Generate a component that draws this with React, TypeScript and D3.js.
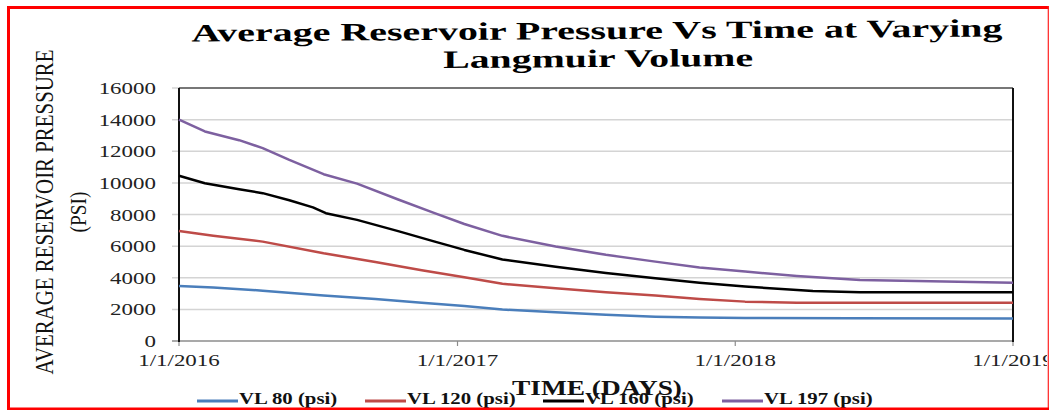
import React from "react";
import * as d3 from "d3";

const purpleDates = ["2016-01-01","2016-02-04","2016-03-20","2016-04-20","2016-05-25","2016-07-09","2016-08-22","2016-10-15","2016-12-01","2017-01-10","2017-03-01","2017-05-10","2017-07-15","2017-09-18","2017-11-15","2018-01-14","2018-03-23","2018-06-14","2018-09-15","2019-01-01"];
const purpleValues = [14000,13250,12700,12200,11450,10550,9950,8950,8100,7400,6650,5970,5450,5020,4650,4390,4115,3860,3780,3690];

const blackDates = ["2016-01-01","2016-02-04","2016-03-20","2016-04-20","2016-05-25","2016-06-25","2016-07-12","2016-08-22","2016-10-15","2016-12-01","2017-01-10","2017-03-01","2017-05-10","2017-07-15","2017-09-18","2017-11-15","2018-01-14","2018-04-13","2018-06-14","2019-01-01"];
const blackValues = [10450,9980,9600,9350,8900,8450,8080,7660,6950,6300,5760,5150,4700,4300,3970,3680,3440,3165,3080,3080];

const redDates = ["2016-01-01","2016-02-15","2016-04-20","2016-07-09","2016-09-15","2016-11-15","2017-01-10","2017-03-01","2017-05-10","2017-07-15","2017-09-18","2017-11-15","2018-01-14","2018-03-23","2019-01-01"];
const redValues = [6950,6650,6285,5550,5000,4480,4030,3620,3335,3080,2870,2660,2490,2425,2425];

const blueDates = ["2016-01-01","2016-02-15","2016-04-20","2016-07-09","2016-09-15","2016-11-15","2017-01-10","2017-03-01","2017-05-10","2017-07-15","2017-09-18","2017-11-15","2018-01-14","2018-06-01","2019-01-01"];
const blueValues = [3480,3380,3185,2870,2650,2420,2215,1990,1815,1660,1540,1480,1450,1440,1430];

const seriesNames = ["VL 80 (psi)", "VL 120 (psi)", "VL 160 (psi)", "VL 197 (psi)"];
const seriesColors = ["#4A7EBB", "#BE4B48", "#000000", "#7D60A0"];

const yTicks = [0, 2000, 4000, 6000, 8000, 10000, 12000, 14000, 16000];
const xTickDates = ["2016-01-01", "2017-01-01", "2018-01-01", "2019-01-01"];
const xTickLabels = ["1/1/2016", "1/1/2017", "1/1/2018", "1/1/2019"];

const titleLines = ["Average Reservoir Pressure Vs Time at Varying", "Langmuir Volume"];
const yTitle1 = "AVERAGE RESERVOIR PRESSURE";
const yTitle2 = "(PSI)";
const xTitle = "TIME (DAYS)";

const legendX = [197, 365, 543, 722];

const parse = (s: string) => new Date(s + "T00:00:00");

export default function App() {
  const W = 1050, H = 410;
  const L = 179, R = 1013, T = 88, B = 341;
  const x = d3.scaleTime().domain([parse("2016-01-01"), parse("2019-01-01")]).range([L, R]);
  const y = d3.scaleLinear().domain([0, 16000]).range([B, T]);
  const line = d3.line<[Date, number]>().x(d => x(d[0])).y(d => y(d[1]));

  const series = [
    { d: blueDates, v: blueValues },
    { d: redDates, v: redValues },
    { d: blackDates, v: blackValues },
    { d: purpleDates, v: purpleValues },
  ];
  const font = "'Liberation Serif', 'Times New Roman', serif";
  const sx = 1.35;

  return (
    <svg width={W} height={H} style={{ position: "absolute", left: 0, top: 0, background: "#fff" }} fontFamily={font}>
      <defs>
        <clipPath id="clipAll"><rect x={0} y={0} width={1047} height={H} /></clipPath>
      </defs>
      <rect x={0} y={0} width={W} height={H} fill="#fff" />
      <g clipPath="url(#clipAll)">
        <g transform="rotate(-0.35,597,40)">
          <text x={597} y={39} textAnchor="middle" fontSize={25} fontWeight="bold" textLength={811} lengthAdjust="spacingAndGlyphs">{titleLines[0]}</text>
          <text x={598} y={67} textAnchor="middle" fontSize={25} fontWeight="bold" textLength={310} lengthAdjust="spacingAndGlyphs">{titleLines[1]}</text>
        </g>
        {yTicks.map(t => (
          <line key={"g" + t} x1={L - 7} x2={R} y1={y(t)} y2={y(t)} stroke={t === 0 ? "#8c8c8c" : "#d4d4d4"} strokeWidth={1.5} />
        ))}
        <line x1={L} x2={R} y1={T} y2={T} stroke="#555" strokeWidth={1.5} />
        {xTickDates.map(d => (
          <line key={"xt" + d} x1={x(parse(d))} x2={x(parse(d))} y1={B} y2={B + 5} stroke="#8c8c8c" strokeWidth={1.2} />
        ))}
        <line x1={L} x2={L} y1={T} y2={B + 1} stroke="#111" strokeWidth={2} />
        <line x1={R} x2={R} y1={T} y2={B + 1} stroke="#111" strokeWidth={2} />
        {series.map((s, i) => (
          <path key={"s" + i} d={line(s.d.map((dd, j) => [parse(dd), s.v[j]] as [Date, number])) || ""} fill="none" stroke={seriesColors[i]} strokeWidth={2.5} strokeLinejoin="round" />
        ))}
        {yTicks.map(t => (
          <text key={"yl" + t} transform={`translate(156,${y(t) + 6}) scale(${sx},1)`} textAnchor="end" fontSize={17} fill="#222">{t}</text>
        ))}
        {xTickDates.map((d, i) => (
          <text key={"xl" + d} transform={`translate(${x(parse(d))},366) scale(${sx},1)`} textAnchor="middle" fontSize={17} fill="#222">{xTickLabels[i]}</text>
        ))}
        <text transform="translate(53,212) rotate(-90)" textAnchor="middle" fontSize={25} textLength={325} lengthAdjust="spacingAndGlyphs" fill="#111">{yTitle1}</text>
        <text transform="translate(86,212) rotate(-90)" textAnchor="middle" fontSize={24} textLength={41} lengthAdjust="spacingAndGlyphs" fill="#111">{yTitle2}</text>
        {seriesNames.map((n, i) => (
          <g key={"lg" + i}>
            <line x1={legendX[i]} x2={legendX[i] + 41} y1={401} y2={401} stroke={seriesColors[i]} strokeWidth={3} />
            <text transform={`translate(${legendX[i] + 42},404) scale(1.3,1)`} fontSize={16} fontWeight="bold" fill="#111">{n}</text>
          </g>
        ))}
        <text x={597} y={395} textAnchor="middle" fontSize={22} fontWeight="bold" textLength={170} lengthAdjust="spacingAndGlyphs" fill="#111">{xTitle}</text>
      </g>
      <line x1={8.5} x2={8.5} y1={6} y2={410} stroke="#ff0000" strokeWidth={3} />
      <line x1={7} x2={1049} y1={7.5} y2={7.5} stroke="#ff0000" strokeWidth={3} />
      <line x1={1048.3} x2={1048.3} y1={6} y2={410} stroke="#ff2020" strokeWidth={1.2} />
      <line x1={7} x2={1049} y1={408.8} y2={408.8} stroke="#ff0000" strokeWidth={2.5} />
    </svg>
  );
}
